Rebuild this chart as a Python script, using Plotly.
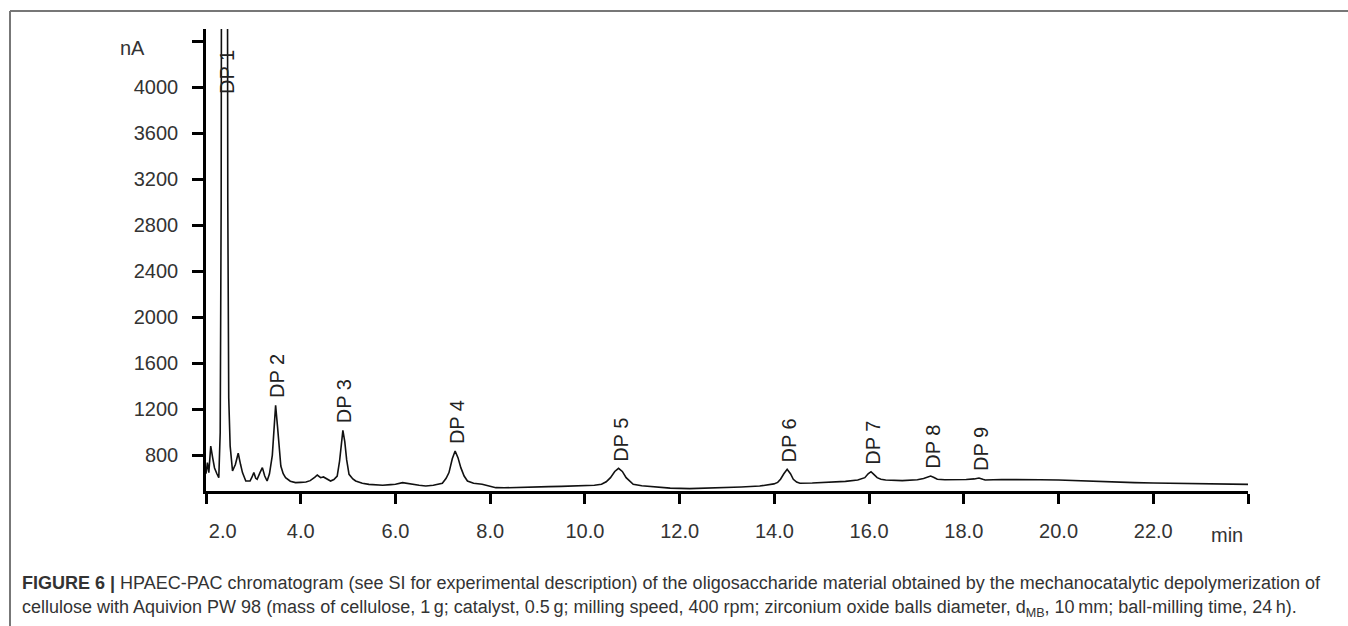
import plotly.graph_objects as go

# ---------------- data ----------------
time_min = [2.00, 2.03, 2.06, 2.10, 2.14, 2.18, 2.23, 2.27, 2.30, 2.32, 2.33, 2.45, 2.46, 2.48,
            2.51, 2.56, 2.62, 2.68, 2.73, 2.77, 2.84, 2.93, 2.97, 3.01, 3.05, 3.08, 3.14, 3.19, 3.24,
            3.29, 3.34, 3.40, 3.44, 3.47, 3.51, 3.55, 3.58, 3.63, 3.68, 3.78, 3.89, 4.00, 4.11, 4.20,
            4.25, 4.30, 4.35, 4.42, 4.48, 4.53, 4.63, 4.70, 4.77, 4.82, 4.86, 4.89, 4.93, 4.97, 5.02,
            5.10, 5.16, 5.30, 5.44, 5.60, 5.73, 5.90, 6.00, 6.15, 6.25, 6.35, 6.50, 6.64, 6.80, 6.99,
            7.07, 7.13, 7.20, 7.26, 7.32, 7.38, 7.45, 7.52, 7.65, 7.83, 8.00, 8.12, 8.30, 8.54, 8.80,
            9.00, 9.24, 9.50, 9.80, 10.00, 10.20, 10.35, 10.45, 10.54, 10.63, 10.71, 10.79, 10.87, 10.95,
            11.02, 11.20, 11.47, 11.80, 12.21, 12.60, 12.95, 13.30, 13.69, 13.90, 13.99, 14.07, 14.13,
            14.20, 14.27, 14.34, 14.40, 14.47, 14.54, 14.80, 15.17, 15.50, 15.76, 15.85, 15.91, 15.98,
            16.04, 16.10, 16.17, 16.25, 16.35, 16.70, 17.02, 17.15, 17.23, 17.30, 17.37, 17.44, 17.60,
            17.84, 18.05, 18.22, 18.32, 18.40, 18.45, 18.80, 19.20, 19.61, 20.00, 20.40, 20.86, 21.17,
            21.60, 22.00, 22.57, 23.00, 23.50, 24.00]
signal_nA = [640, 737, 650, 881, 780, 690, 640, 606, 1000, 3000, 6000, 6000, 3000, 1300,
             880, 664, 720, 818, 720, 650, 577, 577, 610, 650, 600, 592, 650, 693, 620,
             577, 640, 800, 1050, 1235, 1050, 820, 707, 640, 606, 575, 563, 565, 568, 580,
             592, 610, 629, 606, 612, 600, 577, 590, 620, 750, 930, 1017, 920, 760, 635,
             595, 577, 558, 548, 542, 540, 545, 548, 563, 555, 548, 540, 533, 540, 557,
             600, 650, 770, 838, 780, 693, 620, 577, 558, 548, 530, 519, 518, 519, 522,
             525, 528, 530, 533, 535, 540, 548, 570, 606, 660, 687, 660, 606, 570,
             548, 535, 525, 515, 511, 514, 519, 525, 533, 548, 552, 565, 592,
             640, 679, 640, 592, 568, 558, 560, 566, 574, 586, 595, 606, 640,
             658, 635, 606, 592, 586, 580, 588, 598, 612, 620, 608, 592, 588,
             586, 590, 595, 603, 592, 586, 590, 592, 588, 585, 578, 570, 568,
             563, 560, 557, 553, 550, 548]

peak_labels = ["DP 1", "DP 2", "DP 3", "DP 4", "DP 5", "DP 6", "DP 7", "DP 8", "DP 9"]
peak_times = [2.40, 3.47, 4.89, 7.26, 10.73, 14.27, 16.04, 17.30, 18.32]
label_base_nA = [3880, 1235, 1017, 838, 687, 679, 658, 620, 603]

x_tick_vals = [2, 4, 6, 8, 10, 12, 14, 16, 18, 20, 22]
x_tick_text = ["\u00a0\u00a0\u00a0\u00a0\u00a0\u00a02.0", "4.0", "6.0", "8.0", "10.0", "12.0",
               "14.0", "16.0", "18.0", "20.0", "22.0"]
x_extra_ticks = [24]
y_tick_vals = [800, 1200, 1600, 2000, 2400, 2800, 3200, 3600, 4000]
y_tick_text = ["800", "1200", "1600", "2000", "2400", "2800", "3200", "3600", "4000"]
y_extra_ticks = [4400]

caption_1 = ("<b>FIGURE 6 |</b> HPAEC-PAC chromatogram (see SI for experimental description) of the "
             "oligosaccharide material obtained by the mechanocatalytic depolymerization of")
caption_2 = ("cellulose with Aquivion PW 98 (mass of cellulose, 1\u2009g; catalyst, 0.5\u2009g; milling "
             "speed, 400 rpm; zirconium oxide balls diameter, d<sub>MB</sub>, 10\u2009mm; "
             "ball-milling time, 24\u2009h).")

# ---------------- layout geometry (pixels) ----------------
W, H = 1348, 626
L, R, T, B = 206, 1248, 29, 491


def px(xp):
    return (xp - L) / (R - L)


def py(yp):
    return (B - yp) / (B - T)


FONT = "Liberation Sans, Arial, sans-serif"
TICKC = "#333333"

fig = go.Figure()
fig.add_trace(go.Scatter(x=time_min, y=signal_nA, mode="lines",
                         line=dict(color="#111111", width=1.6), hoverinfo="skip",
                         showlegend=False))

for lab, t, base in zip(peak_labels, peak_times, label_base_nA):
    fig.add_annotation(x=t, y=base, xref="x", yref="y", text=lab, showarrow=False,
                       textangle=-90, xanchor="center", yanchor="bottom", yshift=5, xshift=2,
                       font=dict(family=FONT, size=20, color="#222222"))

fig.add_annotation(x=px(132), y=py(48), xref="paper", yref="paper", text="nA", showarrow=False,
                   xanchor="center", yanchor="middle", font=dict(family=FONT, size=20, color=TICKC))
fig.add_annotation(x=px(1227), y=py(535), xref="paper", yref="paper", text="min", showarrow=False,
                   xanchor="center", yanchor="middle", font=dict(family=FONT, size=20, color=TICKC))

for yy, txt in ((583, caption_1), (608, caption_2)):
    fig.add_annotation(x=px(20), y=py(yy), xref="paper", yref="paper", text=txt, showarrow=False,
                       xanchor="left", yanchor="middle", align="left",
                       font=dict(family="Liberation Sans, Arial", size=18, color="#333333"))

# frame lines (top and left)
fig.add_shape(type="line", xref="paper", yref="paper", x0=px(10), x1=px(1348), y0=py(11), y1=py(11),
              line=dict(color="#777777", width=2))
fig.add_shape(type="line", xref="paper", yref="paper", x0=px(10), x1=px(10), y0=py(11), y1=py(626),
              line=dict(color="#777777", width=2))

fig.update_layout(
    width=W, height=H,
    margin=dict(l=L, r=W - R, t=T, b=H - B, pad=0),
    paper_bgcolor="white", plot_bgcolor="white",
    xaxis=dict(range=[2.0, 24.0], tickmode="array", tickvals=x_tick_vals, ticktext=x_tick_text,
               showgrid=False, zeroline=False, showline=True, linecolor="black", linewidth=2.5,
               ticks="outside", ticklen=10, tickwidth=2.5, tickcolor="black",
               tickfont=dict(family=FONT, size=20, color=TICKC), ticklabelstandoff=10,
               minor=dict(tickmode="array", tickvals=x_extra_ticks, ticks="outside", ticklen=10,
                          tickwidth=2.5, tickcolor="black", showgrid=False)),
    yaxis=dict(range=[490, 4507], tickmode="array", tickvals=y_tick_vals, ticktext=y_tick_text,
               showgrid=False, zeroline=False, showline=True, linecolor="black", linewidth=2.5,
               ticks="outside", ticklen=11, tickwidth=2.5, tickcolor="black",
               tickfont=dict(family=FONT, size=20, color=TICKC), ticklabelstandoff=10,
               minor=dict(tickmode="array", tickvals=y_extra_ticks, ticks="outside", ticklen=11,
                          tickwidth=2.5, tickcolor="black", showgrid=False)),
)

fig.write_html("out.html", config={"displayModeBar": False})
